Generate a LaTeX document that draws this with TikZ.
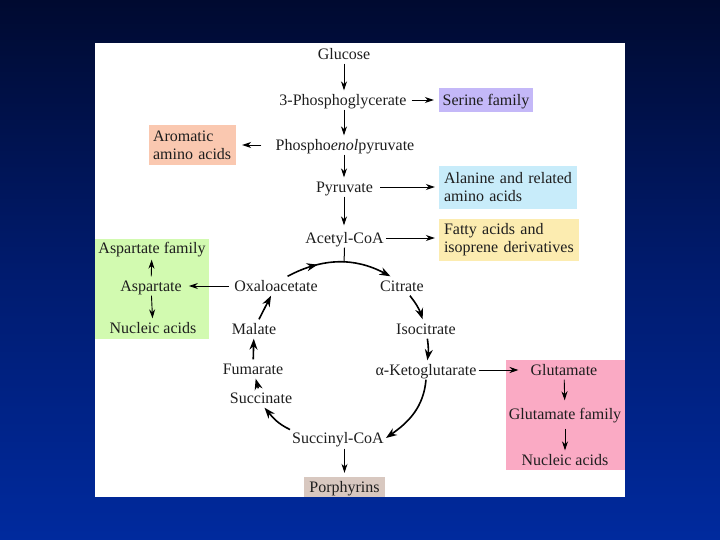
\documentclass[tikz,border=0pt]{standalone}
\usepackage{fontspec}
\setmainfont{Liberation Serif}
\usetikzlibrary{arrows.meta,decorations.markings}

\definecolor{bgtop}{HTML}{000A30}
\definecolor{bgmid}{HTML}{001B6E}
\definecolor{bgbot}{HTML}{002A9E}
\definecolor{txtc}{HTML}{1E1E1E}
\definecolor{serc}{HTML}{C4B8F8}
\definecolor{aroc}{HTML}{FAC8B0}
\definecolor{alac}{HTML}{C8ECFA}
\definecolor{fatc}{HTML}{FCECB0}
\definecolor{aspc}{HTML}{D2FAB0}
\definecolor{gluc}{HTML}{FAAAC4}
\definecolor{porc}{HTML}{D8C8C0}
\pgfdeclareverticalshading{slidebg}{100bp}{color(0bp)=(bgbot); color(25bp)=(bgbot); color(50bp)=(bgmid); color(75bp)=(bgtop); color(100bp)=(bgtop)}

\tikzset{
  met/.style={inner sep=2pt, text height=13pt, text depth=2pt, text=txtc},
  box/.style={fill=#1, align=left, inner xsep=6pt, inner ysep=2pt, text=txtc},
  arr/.style={line width=0.9pt, -{Stealth[length=9pt,width=6pt]}},
  cyc/.style={line width=1.6pt, -{Stealth[length=11pt,width=8pt]}},
}

\begin{document}
\begin{tikzpicture}[x=10pt, y=10pt, font=\fontsize{16}{18}\selectfont]
\fill[shading=slidebg] (0,0) rectangle (72,-54);
\useasboundingbox (0,0) rectangle (72,-54);
\fill[white] (9.5,-4.3) rectangle (62.5,-49.7);
% group boxes
\node[fill=aspc, minimum width=114pt, minimum height=100pt] (aspbox) at (15.2,-28.9) {};
\node[fill=gluc, minimum width=119pt, minimum height=110pt] (glubox) at (56.55,-41.5) {};
% main route
\node[met] (glc) at (34.4,-5.4) {Glucose};
\node[met] (pga) at (34.3,-10.0) {3-Phosphoglycerate};
\node[met] (pep) at (34.5,-14.5) {Phospho\textit{enol}pyruvate};
\node[met] (pyr) at (34.45,-18.7) {Pyruvate};
\node[met] (aca) at (34.45,-23.8) {Acetyl-CoA};
% cycle
\node[met] (oaa) at (27.6,-28.6) {Oxaloacetate};
\node[met] (cit) at (40.2,-28.6) {Citrate};
\node[met] (ict) at (42.6,-32.9) {Isocitrate};
\node[met] (akg) at (42.6,-37.0) {α-Ketoglutarate};
\node[met] (sca) at (33.8,-43.8) {Succinyl-CoA};
\node[met] (suc) at (26.1,-39.8) {Succinate};
\node[met] (fum) at (25.3,-36.9) {Fumarate};
\node[met] (mal) at (25.4,-32.9) {Malate};
% products
\node[met, fill=serc, minimum width=94pt, minimum height=24pt] (ser) at (48.6,-10.0) {Serine family};
\node[box=aroc, inner xsep=4pt, minimum height=40pt, text width=79pt] (aro) at (19.25,-14.5) {Aromatic\\amino acids};
\node[box=alac, inner xsep=5pt, minimum height=43pt, text width=128pt] (ala) at (50.8,-18.75) {Alanine and related\\amino acids};
\node[box=fatc, inner xsep=5pt, minimum height=42pt, text width=130pt] (fat) at (50.9,-24.0) {Fatty acids and\\isoprene derivatives};
\node[met] (aspfam) at (15.2,-24.8) {Aspartate family};
\node[met] (asp) at (15.1,-28.6) {Aspartate};
\node[met] (aspnuc) at (15.3,-32.8) {Nucleic acids};
\node[met] (glu) at (56.4,-37.0) {Glutamate};
\node[met] (glufam) at (56.5,-41.4) {Glutamate family};
\node[met] (glunuc) at (56.5,-46.0) {Nucleic acids};
\node[met, fill=porc, inner xsep=5.5pt, minimum height=20pt] (por) at (34.45,-48.7) {Porphyrins};

% main route arrows
\draw[arr] (glc.south) -- (glc.south |- pga.north);
\draw[arr] (pga.south -| glc.south) -- (pep.north -| glc.south);
\draw[arr] (pep.south -| glc.south) -- (pyr.north -| glc.south);
\draw[arr, shorten >=3pt] (pyr.south -| glc.south) -- (aca.north -| glc.south);
% side products
\draw[arr, shorten <=3pt, shorten >=5pt] (pga.east) -- (pga.east -| ser.west);
\draw[arr, shorten <=12pt, shorten >=6pt] (pep.west) -- (pep.west -| aro.east);
\draw[arr, shorten <=5pt, shorten >=4pt] (pyr.east) -- (pyr.east -| ala.west);
\draw[arr, shorten >=4pt] (aca.east) -- (aca.east -| fat.west);
\draw[arr, shorten <=3pt, shorten >=5pt] (oaa) -- (asp);
\draw[arr, shorten >=2pt] (asp) -- (aspfam);
\draw[arr] (asp) -- (aspnuc);
\draw[arr, shorten >=10pt] (akg) -- (glu);
\draw[arr, shorten >=4pt] (glu) -- (glufam);
\draw[arr, shorten <=5pt] (glufam) -- (glunuc);
\draw[arr, shorten <=1pt, shorten >=4pt] (sca.south -| por.north) -- (por.north);
% citric acid cycle
\draw[cyc, postaction={decorate}, decoration={markings, mark=at position 0.3 with {\arrow{Stealth[length=11pt,width=8pt]}}}]
  (oaa.40) to[bend left=28] coordinate[pos=0.55] (join) (cit.140);
\draw[line width=1pt] (aca.south) -- (join);
\draw[cyc] (cit) to[bend left=10] (ict);
\draw[cyc] (ict) to[bend left=8] (akg);
\draw[cyc] (akg.south) to[out=-95, in=35] (sca.east);
\draw[cyc] (sca.170) to[out=155, in=-50] (suc.-70);
\draw[cyc] (suc) -- (fum);
\draw[cyc] (fum) -- (mal);
\draw[cyc] (mal) -- (oaa);
\end{tikzpicture}
\end{document}
